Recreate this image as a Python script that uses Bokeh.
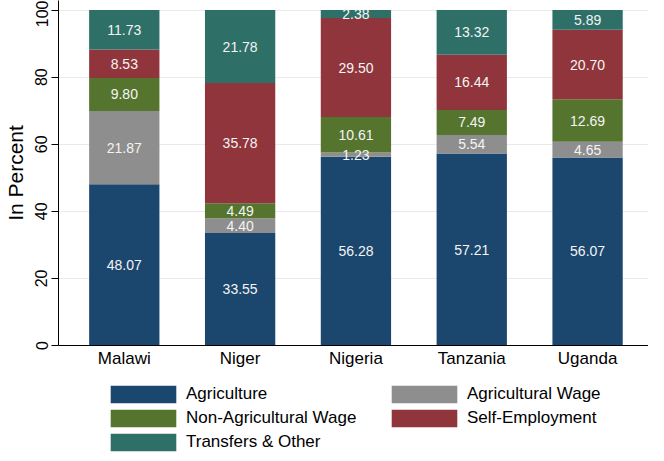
from bokeh.plotting import figure
from bokeh.layouts import column
from bokeh.models import (ColumnDataSource, FixedTicker, Legend, LegendItem, Range1d)
from bokeh.core.properties import value
from bokeh.embed import file_html
from bokeh.resources import INLINE

countries = ["Malawi", "Niger", "Nigeria", "Tanzania", "Uganda"]
categories = ["Agriculture", "Agricultural Wage", "Non-Agricultural Wage",
              "Self-Employment", "Transfers & Other"]
agriculture = [48.07, 33.55, 56.28, 57.21, 56.07]
ag_wage = [21.87, 4.40, 1.23, 5.54, 4.65]
nonag_wage = [9.80, 4.49, 10.61, 7.49, 12.69]
self_emp = [8.53, 35.78, 29.50, 16.44, 20.70]
transfers = [11.73, 21.78, 2.38, 13.32, 5.89]
y_ticks = [0, 20, 40, 60, 80, 100]

colors = ["#1b476f", "#8e8e8e", "#55752f", "#90353b", "#2e6f68"]
FONT = "Liberation Sans"

series = [agriculture, ag_wage, nonag_wage, self_emp, transfers]
keys = ["s0", "s1", "s2", "s3", "s4"]
xs = list(range(len(countries)))
data = {"x": xs}
for k, s in zip(keys, series):
    data[k] = s
source = ColumnDataSource(data)

p = figure(width=648, height=370, output_backend="svg", toolbar_location=None,
           x_range=Range1d(-0.568, 4.526), y_range=Range1d(0, 102.85),
           min_border_left=52, min_border_right=0, min_border_top=0,
           min_border_bottom=10)
p.outline_line_color = None
p.background_fill_color = "white"

renderers = p.vbar_stack(keys, x="x", width=0.607, source=source,
                         color=colors, line_color=None)

# value labels at segment centers
lx, ly, lt = [], [], []
for i in range(len(countries)):
    base = 0.0
    for s in series:
        v = s[i]
        lx.append(i)
        ly.append(base + v / 2.0)
        lt.append("%.2f" % v)
        base += v
lsrc = ColumnDataSource(dict(x=lx, y=ly, t=lt))
p.text(x="x", y="y", text="t", source=lsrc, text_align="center",
       text_baseline="middle", text_color="#f4f4f4",
       text_font=value(FONT), text_font_size="14px")

# axes
p.xaxis.ticker = FixedTicker(ticks=xs)
p.xaxis.major_label_overrides = {i: c for i, c in zip(xs, countries)}
p.xaxis.major_tick_line_color = None
p.xaxis.major_tick_out = 0
p.xaxis.major_tick_in = 0
p.xaxis.minor_tick_line_color = None
p.xaxis.axis_line_color = "black"
p.xaxis.major_label_text_font = FONT
p.xaxis.major_label_text_font_size = "17px"
p.xaxis.major_label_text_color = "black"
p.xaxis.major_label_standoff = 3

p.yaxis.ticker = FixedTicker(ticks=y_ticks)
p.yaxis.minor_tick_line_color = None
p.yaxis.major_tick_out = 7
p.yaxis.major_tick_in = 0
p.yaxis.axis_line_color = "black"
p.yaxis.major_label_orientation = "vertical"
p.yaxis.major_label_text_font = FONT
p.yaxis.major_label_text_font_size = "16px"
p.yaxis.major_label_text_color = "black"
p.yaxis.major_label_standoff = 4
p.yaxis.axis_label = "In Percent"
p.yaxis.axis_label_text_font = FONT
p.yaxis.axis_label_text_font_size = "21px"
p.yaxis.axis_label_text_font_style = "normal"
p.yaxis.axis_label_text_color = "black"
p.yaxis.axis_label_standoff = 6

p.xgrid.grid_line_color = None
p.ygrid.ticker = FixedTicker(ticks=y_ticks)
p.ygrid.grid_line_color = "#eaeaea"
p.ygrid.grid_line_width = 1

# legend in its own strip below the chart
lg = figure(width=648, height=83, output_backend="svg", toolbar_location=None,
            x_range=Range1d(0, 1), y_range=Range1d(0, 1),
            x_axis_location=None, y_axis_location=None,
            min_border_left=0, min_border_right=0, min_border_top=0,
            min_border_bottom=0)
lg.outline_line_color = None
lg.grid.visible = False
# off-range dummy bars only supply the swatch styles
swatches = [lg.vbar(x=[5], top=[5], bottom=[4], width=0.1, color=c, line_color=None)
            for c in colors]
items = [LegendItem(label=c, renderers=[r]) for c, r in zip(categories, swatches)]
legend = Legend(items=items, orientation="horizontal", ncols=2,
                glyph_width=82, glyph_height=22, label_height=18, label_width=195,
                label_standoff=2, spacing=2, padding=0, margin=0,
                border_line_color=None, background_fill_alpha=0,
                label_text_font=FONT, label_text_font_size="17px",
                label_text_color="black", location=(44, 0))
lg.add_layout(legend)

open("out.html", "w").write(file_html(column(p, lg), INLINE))
